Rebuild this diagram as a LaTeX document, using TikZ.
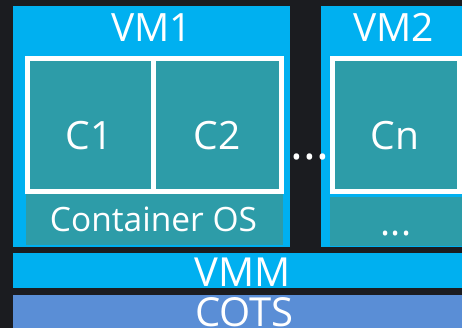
\documentclass[tikz,border=0pt]{standalone}
\usepackage{fontspec}
\setmainfont{Open Sans}
\definecolor{bgdark}{HTML}{1B1C20}
\definecolor{vmblue}{HTML}{00B0F0}
\definecolor{ctteal}{HTML}{2D9CA8}
\definecolor{cotsblue}{HTML}{5A8ED6}
\newcommand{\fsz}[1]{\fontsize{#1}{#1}\selectfont}
\begin{document}
\begin{tikzpicture}[x=1pt,y=-1pt,
  box/.style={inner sep=0pt,outer sep=0pt,draw=none,anchor=north west},
  cbox/.style={box,fill=ctteal,draw=white,line width=5pt},
  lbl/.style={text=white,anchor=base,inner sep=0pt,outer sep=0pt},
]
\useasboundingbox (0,0) rectangle (462,328);
\fill[bgdark] (0,0) rectangle (462,328);
\begin{scope}
\clip (0,0) rectangle (462,328);
% layers
\node[box,fill=vmblue,minimum width=277pt,minimum height=241pt] (vm1) at (13,6) {};
\node[box,fill=vmblue,minimum width=150pt,minimum height=241pt] (vm2) at (321,6) {};
\node[box,fill=vmblue,minimum width=465pt,minimum height=35pt] (vmm) at (13,253) {};
\node[box,fill=cotsblue,minimum width=470pt,minimum height=45pt] (cots) at (13,295) {};
% guest OS areas
\node[box,fill=ctteal,minimum width=257pt,minimum height=51pt] (cos) at (26,194) {};
\node[box,fill=ctteal,minimum width=132pt,minimum height=49pt] (vm2os) at (330,197) {};
% containers
\node[cbox,minimum width=125.5pt,minimum height=133pt] (c1) at (27.5,58.5) {};
\node[cbox,minimum width=128.5pt,minimum height=133pt] (c2) at (153,58.5) {};
\node[cbox,minimum width=127pt,minimum height=133pt] (cn) at (332.5,58.5) {};
% labels
\node[lbl,font=\fsz{39}] (vm1t) at (151.5,42) {VM1};
\node[lbl,font=\fsz{39}] (vm2t) at (393.5,42) {VM2};
\node[lbl,font=\fsz{39}] (c1t) at (89,150) {C1};
\node[lbl,font=\fsz{39}] (c2t) at (217,150) {C2};
\node[lbl,font=\fsz{39}] (cnt) at (395,150) {Cn};
\node[lbl,font=\fsz{33.5}] (cost) at (153.5,232) {Container OS};
\node[lbl,font=\fsz{38}] (vm2ost) at (396,235.5) {...};
\node[lbl,font=\fsz{48}] (gap) at (310,160) {...};
\node[lbl,font=\fsz{40}] (vmmt) at (243,286) {VMM};
\node[lbl,font=\fsz{40}] (cotst) at (244.5,326) {COTS};
\end{scope}
\end{tikzpicture}
\end{document}
